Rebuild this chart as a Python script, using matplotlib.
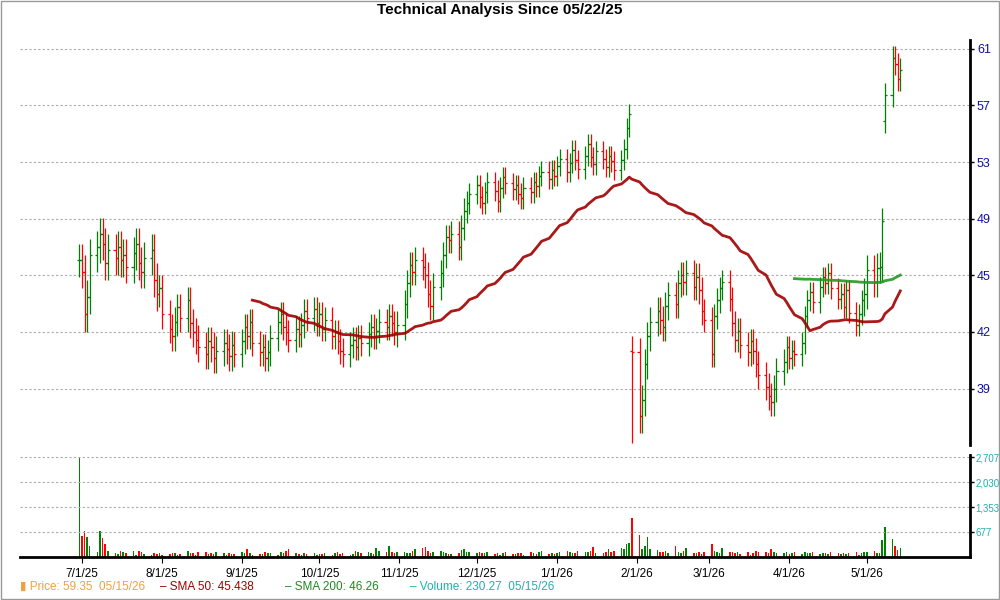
"""Daily OHLC bar chart with SMA 50 / SMA 200 and volume panel."""
import numpy as np
import pandas as pd
import matplotlib
matplotlib.use("Agg")
import matplotlib.pyplot as plt
import matplotlib.dates as mdates

plt.rcParams["font.family"] = ["Liberation Sans", "DejaVu Sans"]

# closes by month (Jun 30 2025 -> May 15 2026)
close_jul = [46.2, 45.5, 43.0, 44.0, 46.5, 47.0, 47.8, 47.2, 46.0, 46.8, 46.3, 47.0, 46.2, 46.5, 45.8,
             46.6, 47.2, 46.0, 45.5, 46.3, 46.8, 45.0, 44.2]
close_aug = [44.5, 43.0, 42.2, 41.8, 42.6, 43.4, 42.8, 43.8, 42.5, 42.0, 41.6, 41.2, 40.8, 41.5, 41.2,
             40.6, 41.0, 41.4, 41.1, 40.7, 41.3]
close_sep = [40.8, 41.5, 42.3, 41.8, 42.6, 41.4, 40.9, 41.2, 40.6, 40.9, 41.7, 42.6, 43.0, 42.3, 42.0,
             41.6, 42.2, 41.9, 42.4, 43.2, 42.8, 43.3]
close_oct = [42.5, 43.0, 42.2, 42.7, 41.8, 42.0, 41.5, 41.0, 40.8, 41.3, 41.6, 41.2, 41.7, 41.4, 41.9,
             42.3, 41.8, 42.1, 42.6, 42.3, 42.9, 42.5, 42.0]
close_nov = [42.4, 43.6, 44.8, 45.9, 45.5, 46.2, 45.8, 45.3, 44.2, 43.5, 44.6, 45.4, 46.5, 47.6, 47.4,
             47.8, 47.0, 48.2, 49.3, 49.8]
close_dec = [50.4, 51.0, 50.2, 49.8, 50.5, 51.2, 50.6, 49.9, 50.8, 51.5, 51.1, 50.7, 51.0, 50.4, 50.1,
             50.8, 50.5, 51.2, 50.9, 51.6, 51.9, 51.4, 52.0]
close_jan = [51.6, 52.3, 52.8, 51.9, 52.5, 53.4, 52.7, 52.1, 53.0, 53.8, 52.9, 52.4, 53.3, 52.8, 52.2,
             53.0, 52.6, 52.0, 52.7, 53.5, 55.0, 56.0]
close_feb = [40.9, 37.6, 38.4, 40.3, 41.8, 42.6, 43.2, 42.7, 42.3, 43.5, 44.1, 43.6, 44.8, 45.3, 44.9,
             45.4, 44.6, 45.2, 44.4, 43.2]
close_mar = [42.7, 40.8, 42.9, 43.8, 44.5, 44.9, 43.9, 42.5, 41.6, 42.1, 41.3, 40.9, 41.5, 41.0, 40.3,
             39.7, 39.1, 38.6, 38.3, 39.0, 39.9, 40.4]
close_apr = [41.2, 40.6, 41.0, 40.8, 41.4, 42.9, 43.8, 44.3, 43.7, 44.6, 45.2, 44.8, 45.4, 44.5, 43.9,
             44.2, 43.4, 44.4, 43.1, 42.4, 43.0, 43.8]
close_may = [44.2, 45.6, 44.9, 45.7, 45.8, 48.6, 57.4, 60.3, 59.8, 58.6, 59.35]

volume = [2707, 560, 700, 540, 300, 120, 700, 520, 350, 150, 110, 80, 160, 120, 90, 170, 60, 150, 130, 70, 60, 100, 80,
          90, 60, 70, 110, 100, 60, 80, 150, 110, 90, 60, 120, 130, 70, 100, 80, 140, 90, 60, 110, 80,
          70, 130, 100, 220, 90, 60, 70, 80, 120, 100, 90, 60, 130, 110, 160, 200, 90, 70, 60, 90, 80, 110,
          60, 80, 70, 100, 50, 90, 120, 80, 110, 60, 70, 150, 130, 100, 120, 90, 70, 230, 160, 120, 290, 140, 100,
          120, 130, 90, 110, 160, 220, 250, 280, 150, 110, 130, 170, 120, 90, 80, 70, 100, 180, 210, 140,
          120, 110, 140, 90, 100, 130, 80, 110, 60, 90, 120, 70, 80, 100, 90, 60, 130, 100, 80, 120, 150, 70, 90,
          80, 110, 140, 170, 120, 100, 90, 160, 120, 130, 150, 280, 100, 90, 120, 200, 130, 170, 240, 220, 350, 380,
          1050, 600, 200, 300, 550, 220, 180, 140, 120, 160, 90, 300, 140, 110, 170, 230, 100, 90, 130, 80,
          120, 340, 170, 140, 110, 230, 130, 120, 90, 140, 80, 130, 60, 100, 170, 120, 140, 90, 200, 130, 110, 90,
          140, 80, 110, 130, 70, 120, 100, 90, 140, 70, 110, 90, 80, 120, 100, 70, 110, 80, 90, 120, 60, 100,
          120, 140, 160, 110, 100, 450, 820, 480, 300, 180, 230]

# typical half-range of a day's bar, per month
month_range = [1.0, 0.8, 0.7, 0.7, 0.8, 0.7, 0.7, 0.8, 0.7, 0.6, 0.9]
# gap opens (index -> open), crash day low
gap_open = {154: 41.0, 224: 55.5}
crash_low = {154: 36.3}

months = [close_jul, close_aug, close_sep, close_oct, close_nov, close_dec,
          close_jan, close_feb, close_mar, close_apr, close_may]
close = np.array(sum(months, []))
rng = np.concatenate([[r] * len(m) for r, m in zip(month_range, months)])
dates = pd.bdate_range("2025-06-30", periods=len(close))

opens = np.r_[close[0], close[:-1]].copy()
for i, o in gap_open.items():
    opens[i] = o
high = np.maximum(opens, close) + rng
low = np.minimum(opens, close) - rng
for i, l in crash_low.items():
    low[i] = l
up = close >= opens
colors = np.where(up, "#008000", "#ff0000")

sma50 = pd.Series(close).rolling(50).mean().values
sma200 = pd.Series(close).rolling(200).mean().values

fig = plt.figure(figsize=(10, 6), dpi=100)
fig.patches.append(plt.Rectangle((0.001, 0.001), 0.998, 0.998, transform=fig.transFigure,
                                 fill=False, edgecolor="#999999", lw=1))
fig.text(0.5, 0.983, "Technical Analysis Since 05/22/25", ha="center", va="center",
         fontsize=11, fontweight="bold")

ax = fig.add_axes([0.02, 0.258, 0.95, 0.675])
vax = fig.add_axes([0.02, 0.072, 0.95, 0.17], sharex=ax)

xmin, xmax = pd.Timestamp("2025-06-07"), pd.Timestamp("2026-06-10")
tick = pd.Timedelta(hours=20)

ax.vlines(dates, low, high, colors=colors, lw=0.9)
ax.hlines(opens, dates - tick, dates, colors=colors, lw=0.9)
ax.hlines(close, dates, dates + tick, colors=colors, lw=0.9)
ax.plot(dates, sma50, color="#a00000", lw=2, alpha=0.9)
ax.plot(dates, sma200, color="#229922", lw=2, alpha=0.9)

ax.set_yscale("log")
ax.set_ylim(36.2, 61.7)
price_ticks = [61 / 1.0774 ** k for k in range(7)]
ax.set_yticks(price_ticks)
ax.set_yticklabels([f"{p:.0f}" for p in price_ticks])
ax.yaxis.set_minor_locator(matplotlib.ticker.NullLocator())
ax.grid(axis="y", color="#aaaaaa", ls=(0, (2, 2)), lw=0.8)
ax.set_xlim(xmin, xmax)

for a in (ax, vax):
    a.yaxis.tick_right()
    for s in ("top", "left"):
        a.spines[s].set_visible(False)
    a.spines["right"].set_linewidth(2)
    a.tick_params(axis="y", length=3, width=1, pad=2, labelsize=9)
ax.spines["bottom"].set_visible(False)
ax.tick_params(axis="x", bottom=False, labelbottom=False)
ax.tick_params(axis="y", labelcolor="#1010a0")

vax.bar(dates, volume, width=0.6, color=colors)
vax.set_ylim(0, 2780)
vax.set_yticks([677, 1353, 2030, 2707])
vax.set_yticklabels(["677", "1,353", "2,030", "2,707"])
vax.tick_params(axis="y", labelcolor="#20b0b0", labelsize=7, pad=1)
vax.grid(axis="y", color="#aaaaaa", ls=(0, (2, 2)), lw=0.8)
vax.spines["bottom"].set_linewidth(2)
month_ticks = pd.date_range("2025-07-01", "2026-05-01", freq="MS")
vax.set_xticks(month_ticks)
vax.xaxis.set_major_formatter(mdates.DateFormatter("%-m/%-d/%y"))
vax.tick_params(axis="x", length=4, labelsize=8.5, pad=4)

legend = [(0.02, "\u25AE", "Price: 59.35  05/15/26", "#f0a040"),
          (0.16, "\u2013", "SMA 50: 45.438", "#a00000"),
          (0.285, "\u2013", "SMA 200: 46.26", "#228822"),
          (0.41, "\u2013", "Volume: 230.27  05/15/26", "#20b0b0")]
for x, mark, label, c in legend:
    fig.text(x, 0.022, mark + " " + label, color=c, fontsize=8.5, va="center")

fig.savefig("out.png", dpi=100)
